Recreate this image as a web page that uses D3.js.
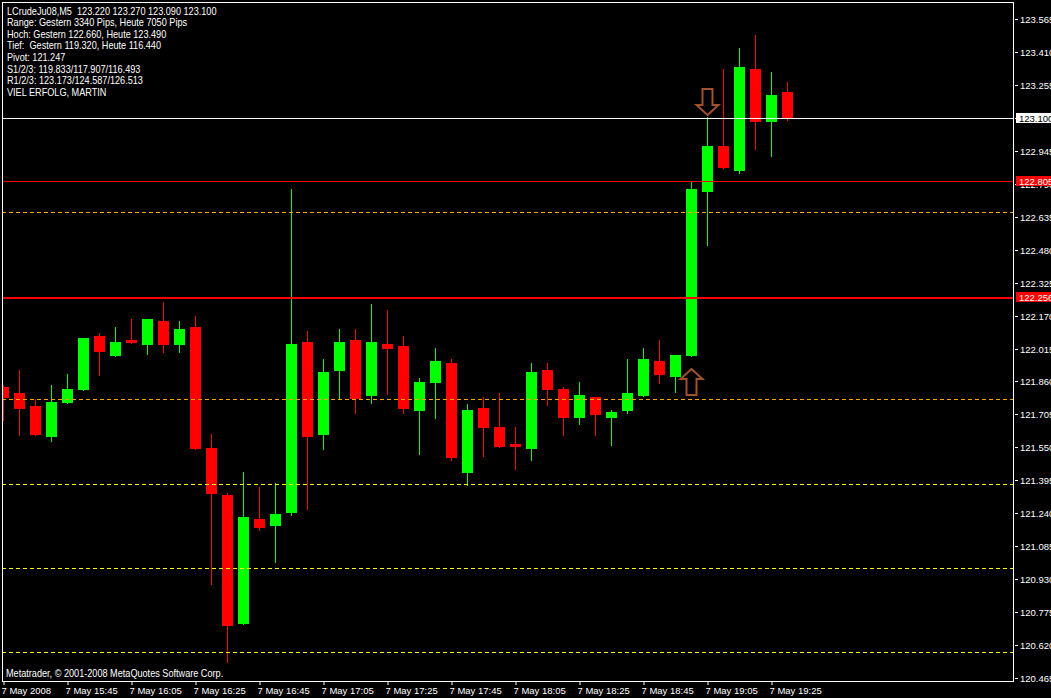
<!DOCTYPE html>
<html><head><meta charset="utf-8">
<script src="https://cdn.jsdelivr.net/npm/d3@7"></script>
<style>body{margin:0;background:#000;overflow:hidden} svg{display:block}</style>
</head><body>
<svg id="c" width="1051" height="698"></svg>
<script>
// ---- data ----
const timeLabels = ["7 May 2008","7 May 15:45","7 May 16:05","7 May 16:25","7 May 16:45","7 May 17:05","7 May 17:25","7 May 17:45","7 May 18:05","7 May 18:25","7 May 18:45","7 May 19:05","7 May 19:25"];
const timeTickBars = [0,4,8,12,16,20,24,28,32,36,40,44,48];
const open  = [121.834,121.806,121.745,121.599,121.759,121.820,122.074,121.980,122.055,122.031,122.144,122.031,122.116,121.547,121.326,120.719,121.213,121.180,121.241,122.046,121.608,121.909,122.055,121.792,122.036,122.027,121.721,121.853,121.947,121.429,121.735,121.646,121.566,121.542,121.914,121.825,121.688,121.787,121.688,121.721,121.792,121.956,121.881,121.980,122.751,122.968,122.850,123.330,123.081,123.220];
const high  = [121.843,121.914,121.778,121.843,121.895,122.064,122.088,122.116,122.154,122.154,122.234,122.144,122.168,121.613,121.335,121.434,121.364,121.382,122.765,122.097,121.966,122.107,122.107,122.224,122.196,122.074,121.876,122.017,121.966,121.754,121.787,121.806,121.646,121.947,121.947,121.834,121.857,121.787,121.726,121.966,122.017,122.055,121.985,122.798,123.104,123.330,123.429,123.490,123.316,123.270];
const low   = [121.679,121.608,121.608,121.580,121.759,121.820,121.890,121.980,122.041,121.989,121.999,121.999,121.542,120.907,120.540,120.719,121.161,121.011,121.232,121.260,121.542,121.778,121.712,121.759,121.801,121.712,121.519,121.688,121.491,121.373,121.509,121.552,121.448,121.491,121.749,121.608,121.660,121.608,121.561,121.712,121.792,121.853,121.810,121.980,122.502,122.864,122.841,122.954,122.921,123.090];
const close = [121.782,121.730,121.608,121.763,121.825,122.064,121.999,122.046,122.041,122.154,122.031,122.107,121.542,121.331,120.710,121.222,121.171,121.237,122.036,121.599,121.905,122.046,121.778,122.046,122.013,121.730,121.857,121.956,121.500,121.726,121.641,121.552,121.552,121.905,121.820,121.688,121.796,121.702,121.716,121.806,121.966,121.890,121.985,122.765,122.968,122.864,123.339,123.081,123.208,123.100];
const priceTicks = [120.465,120.620,120.775,120.930,121.085,121.240,121.395,121.550,121.705,121.860,122.015,122.170,122.325,122.480,122.635,122.790,122.945,123.100,123.255,123.410,123.565];
const bidPrice = 123.100;
const redLevels = [122.805, 122.256];
const orangeLevels = [122.657, 121.776];
const yellowLevels = [121.378, 120.982, 120.587];
const arrowBars = [44, 43];
const arrowPrices = [123.113, 121.918];
const arrowDirs = ["down", "up"];
const infoLines = ["LCrudeJu08,M5  123.220 123.270 123.090 123.100","Range: Gestern 3340 Pips, Heute 7050 Pips","Hoch: Gestern 122.660, Heute 123.490","Tief:  Gestern 119.320, Heute 116.440","Pivot: 121.247","S1/2/3: 119.833/117.907/116.493","R1/2/3: 123.173/124.587/126.513","VIEL ERFOLG, MARTIN"];
const copyright = "Metatrader, \u00A9 2001-2008 MetaQuotes Software Corp.";

// ---- drawing ----
const svg = d3.select("#c");
const W = 1051, H = 698;
const L = 2, R = 1013, T = 2, B = 681;
const FONT = "'Liberation Sans', Arial, sans-serif";

svg.append("rect").attr("width", W).attr("height", H).attr("fill", "#000");

const x = d3.scaleLinear().domain([0, 49]).range([3.5, 787.5]);
const y = d3.scaleLinear().domain([120.465, 123.565]).rangeRound([678, 19]);

svg.append("defs").append("clipPath").attr("id", "plot")
  .append("rect").attr("x", L + 1).attr("y", T + 1).attr("width", R - L - 1).attr("height", B - T - 1);

const plot = svg.append("g").attr("clip-path", "url(#plot)");
const bars = d3.range(open.length).map(i => ({i, o: open[i], h: high[i], l: low[i], c: close[i]}));
const col = d => d.c > d.o ? "#00ff00" : "#ff0000";

plot.selectAll("line.wick").data(bars).join("line")
  .attr("x1", d => x(d.i)).attr("x2", d => x(d.i))
  .attr("y1", d => y(d.h)).attr("y2", d => y(d.l) + 1)
  .attr("stroke", col).attr("stroke-width", 1);

plot.selectAll("rect.body").data(bars).join("rect")
  .attr("x", d => x(d.i) - 5.5).attr("width", 11)
  .attr("y", d => y(Math.max(d.o, d.c)))
  .attr("height", d => Math.max(1, y(Math.min(d.o, d.c)) - y(Math.max(d.o, d.c))))
  .attr("fill", col);

// horizontal levels
function hline(v, color, dash, w) {
  w = w || 1;
  const yy = y(v) + w / 2;
  plot.append("line").attr("x1", L).attr("x2", R).attr("y1", yy).attr("y2", yy)
    .attr("stroke", color).attr("stroke-width", w)
    .attr("stroke-dasharray", dash || null);
}
orangeLevels.forEach(v => hline(v, "#ffa500", "4,3"));
yellowLevels.forEach(v => hline(v, "#ffff00", "4,3"));
hline(redLevels[0], "#ff0000");
hline(redLevels[1], "#ff0000", null, 2);
hline(bidPrice, "#f0ffff");

// arrows
arrowBars.forEach((b, k) => {
  const cx = x(b), ty = y(arrowPrices[k]);
  const s = arrowDirs[k] === "down" ? -1 : 1; // tip at ty
  const pts = [[0,0],[11,10],[5,10],[5,26],[-5,26],[-5,10],[-11,10]];
  const p = d3.line()(pts.map(([px, py]) => [cx + px, ty + s * py])) + "Z";
  plot.append("path").attr("d", p).attr("fill", "none")
    .attr("stroke", "#a0522d").attr("stroke-width", 2).attr("stroke-linejoin", "miter");
});

// frame
svg.append("rect").attr("x", L + 0.5).attr("y", T + 0.5).attr("width", R - L).attr("height", B - T)
  .attr("fill", "none").attr("stroke", "#fff").attr("stroke-width", 1);

// right axis
const ay = svg.append("g").attr("transform", `translate(${R + 2},0)`)
  .call(d3.axisRight(y).tickValues(priceTicks).tickFormat(d3.format(".3f")).tickSize(3).tickPadding(2));
ay.select(".domain").remove();
ay.selectAll("line").attr("stroke", "#fff");
ay.selectAll("text").attr("fill", "#fff").attr("font-family", FONT).attr("font-size", "9.5px");

// bottom axis
const ax = svg.append("g").attr("transform", `translate(0,${B})`)
  .call(d3.axisBottom(x).tickValues(timeTickBars).tickFormat((d, i) => timeLabels[i]).tickSize(4));
ax.select(".domain").remove();
ax.selectAll("line").attr("stroke", "#fff");
ax.selectAll("text").attr("fill", "#fff").attr("font-family", FONT).attr("font-size", "9.5px")
  .attr("text-anchor", "start").attr("x", -2.5).attr("y", 13).attr("dy", 0);

// price labels
function priceBox(v, bg, fg) {
  const yy = y(v);
  svg.append("rect").attr("x", R + 3).attr("y", yy - 5).attr("width", W - R - 3).attr("height", 10).attr("fill", bg);
  svg.append("text").attr("x", R + 6).attr("y", yy + 3.5).attr("fill", fg)
    .attr("font-family", FONT).attr("font-size", "9.5px").text(d3.format(".3f")(v));
}
redLevels.forEach(v => priceBox(v, "#ff0000", "#ffffff"));
priceBox(bidPrice, "#ffffff", "#000000");

// info text
infoLines.forEach((t, i) => {
  svg.append("text").attr("transform", `translate(7,${14.5 + 11.6 * i}) scale(0.87,1)`)
    .attr("fill", "#fff").attr("font-family", FONT).attr("font-size", "10.5px")
    .style("white-space", "pre").text(t);
});
svg.append("text").attr("transform", "translate(6,676.5) scale(0.87,1)")
  .attr("fill", "#fff").attr("font-family", FONT).attr("font-size", "10.5px").text(copyright);
</script>
</body></html>
